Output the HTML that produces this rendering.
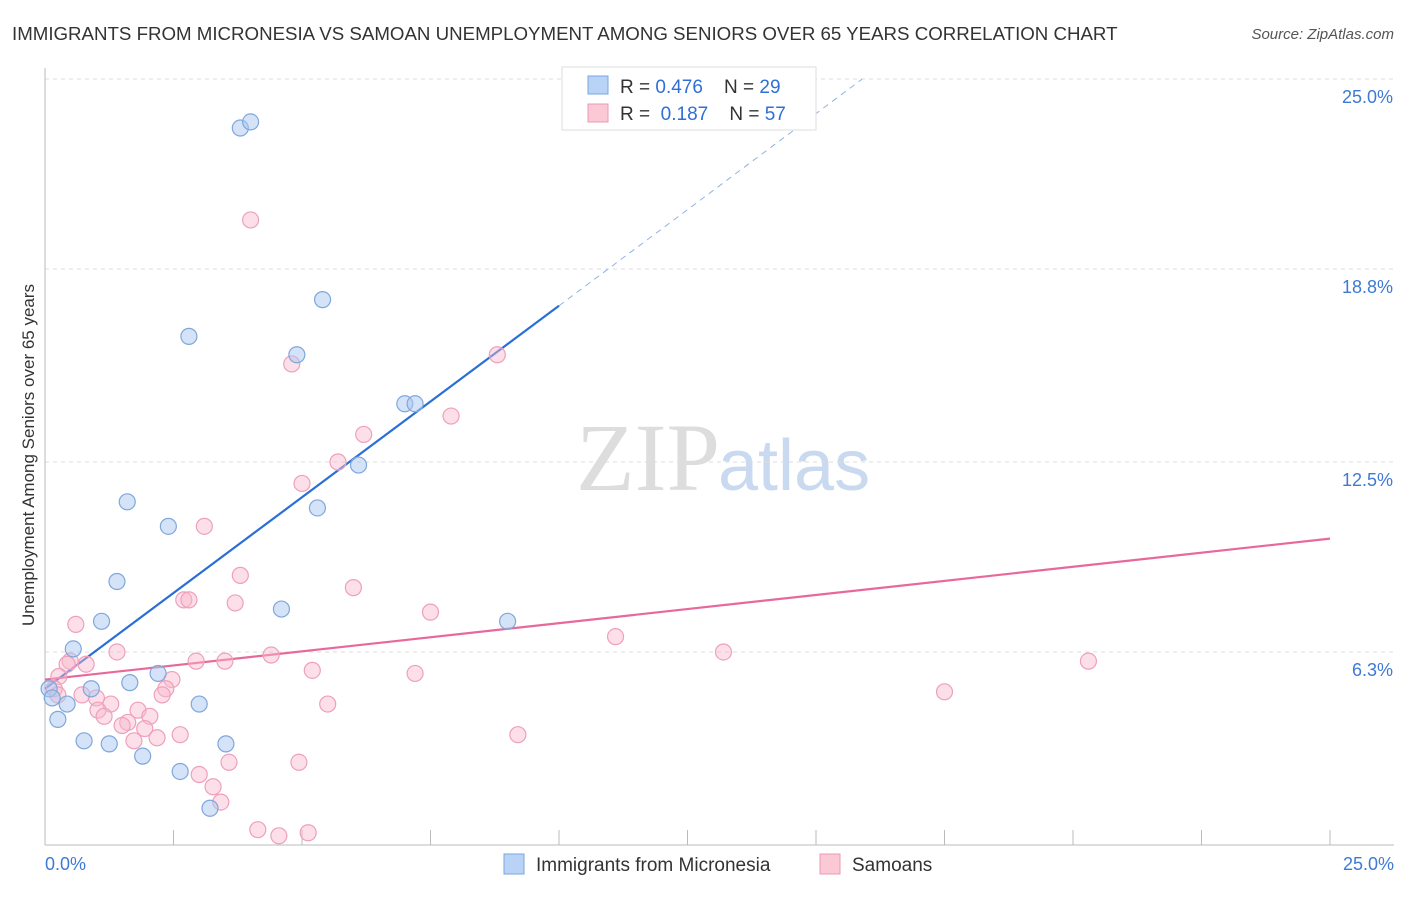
<!DOCTYPE html>
<html><head><meta charset="utf-8"><style>
body{margin:0;background:#fff;font-family:"Liberation Sans",sans-serif;}
</style></head><body>
<svg id="chart" width="1406" height="892" xmlns="http://www.w3.org/2000/svg" font-family="Liberation Sans, sans-serif">
<text x="12" y="40" font-size="18.7" fill="#333">IMMIGRANTS FROM MICRONESIA VS SAMOAN UNEMPLOYMENT AMONG SENIORS OVER 65 YEARS CORRELATION CHART</text>
<text x="1394" y="39" font-size="15" fill="#555" text-anchor="end" font-style="italic">Source: ZipAtlas.com</text>
<text x="720" y="490" font-size="96" text-anchor="end" fill="#ddd" font-family="Liberation Serif, serif">ZIP</text>
<text x="718" y="490" font-size="72" fill="#c9d9ef">atlas</text>
<g id="grid"></g><g id="axes"></g><g id="trend"></g><g id="points"></g>
<text transform="translate(34,455) rotate(-90)" font-size="17" fill="#333" text-anchor="middle">Unemployment Among Seniors over 65 years</text>
<g>
<rect x="562" y="67" width="254" height="63" fill="#fff" stroke="#ddd"/>
<rect x="588" y="76" width="20" height="18" fill="#b8d3f5" stroke="#7aa6df"/>
<rect x="588" y="104" width="20" height="18" fill="#fbc8d6" stroke="#ee9ab2"/>
<text x="620" y="93" font-size="19" fill="#333" xml:space="preserve">R = <tspan fill="#2f6fd6">0.476</tspan>    N = <tspan fill="#2f6fd6">29</tspan></text>
<text x="620" y="120" font-size="19" fill="#333" xml:space="preserve">R =  <tspan fill="#2f6fd6">0.187</tspan>    N = <tspan fill="#2f6fd6">57</tspan></text>
</g>
<g>
<rect x="504" y="854" width="20" height="20" fill="#b8d3f5" stroke="#7aa6df"/>
<text x="536" y="871" font-size="19" fill="#333">Immigrants from Micronesia</text>
<rect x="820" y="854" width="20" height="20" fill="#fbc8d6" stroke="#ee9ab2"/>
<text x="852" y="871" font-size="19" fill="#333">Samoans</text>
</g>
</svg>
<script>
const yTicks=[6.3,12.5,18.8,25.0];
const yTickLabels=["6.3%","12.5%","18.8%","25.0%"];
const xTickLabels=["0.0%","25.0%"];
const blueX=[3.8,4.0,2.8,5.4,4.9,7.0,7.2,6.1,5.3,1.6,2.4,1.4,1.1,4.6,9.0,0.55,2.2,1.65,0.9,0.08,0.14,0.43,3.0,0.25,0.76,1.25,3.52,1.9,2.63,3.21];
const blueY=[23.4,23.6,16.6,17.8,16.0,14.4,14.4,12.4,11.0,11.2,10.4,8.6,7.3,7.7,7.3,6.4,5.6,5.3,5.1,5.1,4.8,4.6,4.6,4.1,3.4,3.3,3.3,2.9,2.4,1.2];
const pinkX=[4.0,4.8,8.8,7.9,6.2,5.7,5.0,3.1,3.8,6.0,2.7,2.8,3.7,7.5,0.6,11.1,13.2,20.3,1.4,4.4,0.49,0.43,2.94,3.5,0.8,5.2,7.2,0.27,2.47,2.35,0.18,0.25,0.72,2.28,1.0,17.5,1.28,5.5,1.03,1.81,1.15,2.04,1.61,1.5,1.94,2.63,2.18,9.2,1.73,3.58,4.94,3.0,3.27,3.42,4.14,4.55,5.12];
const pinkY=[20.4,15.7,16.0,14.0,13.4,12.5,11.8,10.4,8.8,8.4,8.0,8.0,7.9,7.6,7.2,6.8,6.3,6.0,6.3,6.2,6.0,5.9,6.0,6.0,5.9,5.7,5.6,5.5,5.4,5.1,5.1,4.9,4.9,4.9,4.8,5.0,4.6,4.6,4.4,4.4,4.2,4.2,4.0,3.9,3.8,3.6,3.5,3.6,3.4,2.7,2.7,2.3,1.9,1.4,0.5,0.3,0.4];
const blueTrend=[0,5.1,10.0,17.6];
const blueTrendDash=[10.0,17.6,15.9,25.0];
const pinkTrend=[0,5.4,25.0,10.0];
const X=v=>45+v*51.4, Y=v=>845-v*30.64;
const NS="http://www.w3.org/2000/svg";
function mk(parent,tag,attrs){const e=document.createElementNS(NS,tag);for(const k in attrs)e.setAttribute(k,attrs[k]);document.getElementById(parent).appendChild(e);return e;}
yTicks.forEach((t,i)=>{
 const l=mk('grid','line',{x1:45,x2:1394,y1:Y(t),y2:Y(t),stroke:'#ddd','stroke-dasharray':'4,4'});
 
 
 const tx=mk('grid','text',{x:1393,y:Y(t)+24,'font-size':18,fill:'#3d7ad6','text-anchor':'end'});
 tx.textContent=yTickLabels[i];
 
 
});
const ax=mk('axes','line',{x1:45,x2:1394,y1:845,y2:845,stroke:'#bbb'});


const ay=mk('axes','line',{x1:45,x2:45,y1:68,y2:845,stroke:'#bbb'});


for(let i=1;i<=10;i++){const tk=mk('axes','line',{x1:X(i*2.5),x2:X(i*2.5),y1:830,y2:845,stroke:'#bbb'});
 
 }
[[0,'start',45],[25,'end',1394]].forEach((p,i)=>{const t=mk('axes','text',{x:p[2],y:870,'font-size':18,fill:'#3d7ad6','text-anchor':p[1]});t.textContent=xTickLabels[i];
 
 });
function line(a,st,dash,name){const l=mk('trend','line',{x1:X(a[0]),y1:Y(a[1]),x2:X(a[2]),y2:Y(a[3]),stroke:st,'stroke-width':dash?1:2.2});if(dash)l.setAttribute('stroke-dasharray','6,5');
 
 }
line(blueTrend,'#2a6fd6',false,'micronesia-trend-line');
line(blueTrendDash,'#8fb2e6',true,'micronesia-trend-extension');
line(pinkTrend,'#e8689a',false,'samoan-trend-line');
pinkX.forEach((x,i)=>{const c=mk('points','circle',{cx:X(x),cy:Y(pinkY[i]),r:8,fill:'rgba(248,185,205,0.45)',stroke:'#eea0ba','stroke-width':1.2});
 
 });
blueX.forEach((x,i)=>{const c=mk('points','circle',{cx:X(x),cy:Y(blueY[i]),r:8,fill:'rgba(170,200,240,0.5)',stroke:'#7fa7dc','stroke-width':1.2});
 
 });
</script>
</body></html>
